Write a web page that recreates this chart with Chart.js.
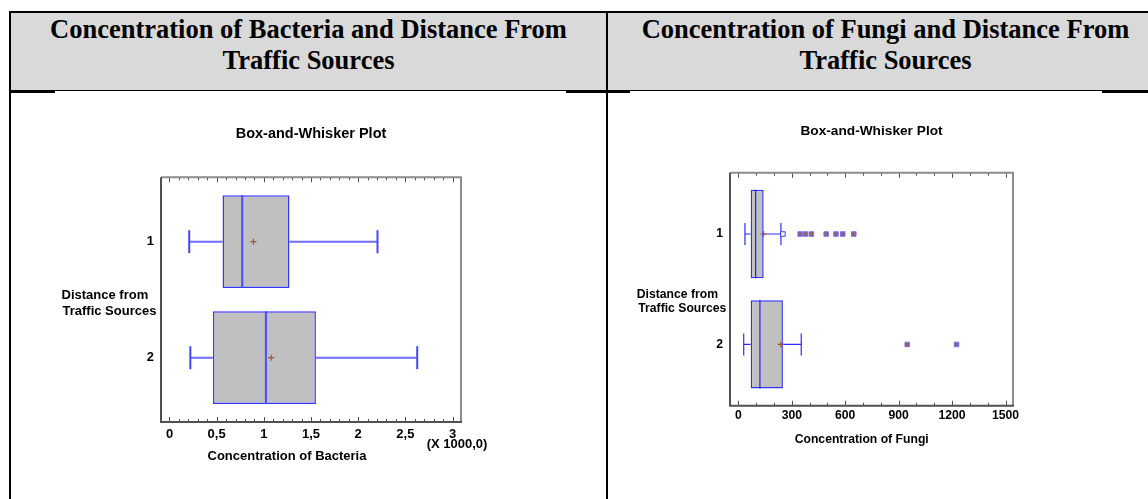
<!DOCTYPE html>
<html>
<head>
<meta charset="utf-8">
<title>Box-and-Whisker Plots</title>
<script src="https://cdn.jsdelivr.net/npm/chart.js@4.4.1/dist/chart.umd.min.js"></script>
<style>
  html, body { margin: 0; padding: 0; background: #fff; }
  body { position: relative; width: 1148px; height: 499px; overflow: hidden; }
  .cell-head { position: absolute; top: 13px; height: 77px; background: #d9d9d9; }
  .head-text { position: absolute; top: 14px; font: bold 26.5px/31px "Liberation Serif", "Times New Roman", serif; color: #000; text-align: center; white-space: nowrap; }
  .rule { position: absolute; background: #000; }
  canvas { position: absolute; }
</style>
</head>
<body>
<div class="cell-head" style="left:11px;width:595px"></div>
<div class="cell-head" style="left:608px;width:540px"></div>
<div class="head-text" style="left:11px;width:595px">Concentration of Bacteria and Distance From<br>Traffic Sources</div>
<div class="head-text" style="left:608px;width:555px">Concentration of Fungi and Distance From<br>Traffic Sources</div>
<div class="rule" style="left:9px;top:11px;width:1139px;height:2px"></div>
<div class="rule" style="left:9px;top:90px;width:1139px;height:1px"></div>
<div class="rule" style="left:9px;top:90px;width:46px;height:3px"></div>
<div class="rule" style="left:566px;top:90px;width:64px;height:3px"></div>
<div class="rule" style="left:1102px;top:90px;width:46px;height:3px"></div>
<div class="rule" style="left:9px;top:11px;width:2px;height:488px"></div>
<div class="rule" style="left:606px;top:11px;width:2px;height:488px"></div>

<canvas id="bacteria" width="542" height="370" style="left:40px;top:110px"></canvas>
<canvas id="fungi" width="503" height="350" style="left:620px;top:110px"></canvas>

<script>
'use strict';

// rows = distance from traffic sources
const rowLabels = ['1', '2'];
const rowValues = [1, 2];

// bacteria concentration (axis shown in thousands)
const bactLow = [209, 221];
const bactQ1 = [562, 460];
const bactMedian = [771, 1022];
const bactMean = [890, 1078];
const bactQ3 = [1272, 1552];
const bactHigh = [2205, 2626];
const bactTickValues = [0, 500, 1000, 1500, 2000, 2500, 3000];
const bactTicks = ['0', '0,5', '1', '1,5', '2', '2,5', '3'];

// fungi concentration
const fungiLow = [37, 30];
const fungiQ1 = [69, 69];
const fungiMedian = [97, 121];
const fungiMean = [141, 239];
const fungiQ3 = [142, 250];
const fungiHigh = [239, 353];
const fungiOutside = [[250], []]; // hollow squares
const fungiFarOutside = [[347, 377, 410, 493, 548, 586, 648], [948, 1225]];
const fungiTickValues = [0, 300, 600, 900, 1200, 1500];
const fungiTicks = ['0', '300', '600', '900', '1200', '1500'];

Chart.defaults.font.family = '"Liberation Sans", Arial, sans-serif';
Chart.defaults.color = '#000';

// frame, inward tick marks and the loose axis texts
const framePlugin = {
  id: 'frame',
  afterDraw(chart, args, opts) {
    const { ctx, chartArea: a } = chart;
    const x = chart.scales.x;
    ctx.save();
    ctx.strokeStyle = '#505050';
    ctx.lineWidth = 1;
    ctx.beginPath();
    for (let k = 0; k <= opts.tickCount; k++) {
      const v = k * opts.minorStep;
      const px = Math.round(x.getPixelForValue(v)) + 0.5;
      const len = k % opts.majorEvery === 0 ? 5 : 3;
      ctx.moveTo(px, a.bottom);
      ctx.lineTo(px, a.bottom - len);
      ctx.moveTo(px, a.top);
      ctx.lineTo(px, a.top + len);
    }
    ctx.stroke();

    ctx.lineWidth = 2;
    ctx.strokeStyle = '#8c8c8c';
    ctx.beginPath();
    ctx.moveTo(a.left, a.top);
    ctx.lineTo(a.right, a.top);
    ctx.lineTo(a.right, a.bottom);
    ctx.stroke();
    ctx.strokeStyle = '#505050';
    ctx.beginPath();
    ctx.moveTo(a.left, a.top);
    ctx.lineTo(a.left, a.bottom);
    ctx.lineTo(a.right + 1, a.bottom);
    ctx.stroke();

    ctx.fillStyle = '#000';
    ctx.textBaseline = 'middle';
    ctx.font = `bold ${opts.fontSize}px "Liberation Sans", Arial, sans-serif`;
    opts.notes.forEach((n) => {
      ctx.textAlign = n.align;
      ctx.fillText(n.text, n.x, n.y);
    });
    ctx.restore();
  },
};

function boxPlot(canvasId, s) {
  const ctx = document.getElementById(canvasId).getContext('2d');
  const halfBox = (c) => {
    const y = c.chart.scales.y;
    return 0.4 * Math.abs(y.getPixelForValue(2) - y.getPixelForValue(1));
  };
  const whisker = (from, to, row, radii) => ({
    type: 'line',
    order: 4,
    data: [{ x: from, y: row }, { x: to, y: row }],
    borderColor: s.whiskerColor,
    borderWidth: s.whiskerWidth,
    pointStyle: 'line',
    pointRotation: 90,
    pointRadius: radii,
    pointBorderColor: s.capColor,
    pointBorderWidth: s.whiskerWidth,
  });

  const datasets = [
    {
      type: 'bar',
      order: 5,
      data: rowValues.map((r, i) => ({ x: [s.q1[i], s.q3[i]], y: r })),
      backgroundColor: '#c0c0c0',
      borderColor: s.boxColor,
      borderWidth: 1.5,
      borderSkipped: false,
      barPercentage: 0.8,
      categoryPercentage: 1,
    },
  ];
  rowValues.forEach((r, i) => {
    datasets.push(whisker(s.low[i], s.q1[i], r, [s.cap, 0]));
    datasets.push(whisker(s.q3[i], s.high[i], r, [0, s.cap]));
  });
  datasets.push({
    type: 'scatter',
    order: 3,
    data: rowValues.map((r, i) => ({ x: s.median[i], y: r })),
    pointStyle: 'line',
    pointRotation: 90,
    pointRadius: halfBox,
    pointBorderColor: s.medianColor,
    pointBorderWidth: s.medianWidth,
  });
  datasets.push({
    type: 'scatter',
    order: 2,
    data: rowValues.map((r, i) => ({ x: s.mean[i], y: r })),
    pointStyle: 'cross',
    pointRadius: 3,
    pointBorderColor: '#a0522d',
    pointBorderWidth: 1.2,
  });
  if (s.outside) {
    datasets.push({
      type: 'scatter',
      order: 1,
      data: s.outside.flatMap((vals, i) => vals.map((v) => ({ x: v, y: rowValues[i] }))),
      pointStyle: 'rect',
      pointRadius: 3.2,
      pointBackgroundColor: '#ffffff',
      pointBorderColor: '#3a3aff',
      pointBorderWidth: 1,
    });
    datasets.push({
      type: 'scatter',
      order: 1,
      data: s.farOutside.flatMap((vals, i) => vals.map((v) => ({ x: v, y: rowValues[i] }))),
      pointStyle: 'rect',
      pointRadius: 3.2,
      pointBackgroundColor: '#94606a',
      pointBorderColor: '#7070ff',
      pointBorderWidth: 1,
    });
  }

  const tickFont = { size: s.axisFont, weight: 'bold' };
  return new Chart(ctx, {
    type: 'bar',
    data: { datasets },
    plugins: [framePlugin],
    options: {
      indexAxis: 'y',
      responsive: false,
      devicePixelRatio: 1,
      animation: false,
      events: [],
      layout: { padding: 0 },
      scales: {
        x: {
          type: 'linear',
          position: 'bottom',
          min: s.xMin,
          max: s.xMax,
          bounds: 'data',
          offset: false,
          grid: { display: false, drawTicks: false },
          border: { display: false },
          afterBuildTicks: (scale) => {
            scale.ticks = s.tickValues.map((v) => ({ value: v }));
          },
          ticks: {
            autoSkip: false,
            maxRotation: 0,
            padding: s.tickPad,
            font: tickFont,
            callback: (v, i) => s.tickLabels[i],
          },
          afterFit: (scale) => { scale.height = s.bottomH; },
        },
        y: {
          type: 'linear',
          position: 'left',
          min: 0.445,
          max: 2.555,
          bounds: 'data',
          reverse: true,
          offset: false,
          grid: { display: false, drawTicks: false },
          border: { display: false },
          afterBuildTicks: (scale) => {
            scale.ticks = rowValues.map((v) => ({ value: v }));
          },
          ticks: {
            padding: 7,
            font: tickFont,
            callback: (v, i) => rowLabels[i],
          },
          afterFit: (scale) => { scale.width = s.sideW; },
        },
        yR: {
          type: 'linear',
          position: 'right',
          min: 0.445,
          max: 2.555,
          display: true,
          grid: { display: false, drawTicks: false },
          border: { display: false },
          ticks: { display: false },
          afterFit: (scale) => { scale.width = s.sideW; },
        },
      },
      plugins: {
        legend: { display: false },
        tooltip: { enabled: false },
        title: {
          display: true,
          text: 'Box-and-Whisker Plot',
          color: '#000',
          font: { size: s.titleFont, weight: 'bold' },
          padding: { top: s.titleTop, bottom: s.titleBottom },
        },
        frame: {
          minorStep: 100,
          tickCount: s.tickCount,
          majorEvery: s.majorEvery,
          fontSize: s.axisFont,
          notes: s.notes,
        },
      },
    },
  });
}

boxPlot('bacteria', {
  low: bactLow, q1: bactQ1, median: bactMedian, mean: bactMean, q3: bactQ3, high: bactHigh,
  tickValues: bactTickValues, tickLabels: bactTicks, xMin: -90, xMax: 3090, tickCount: 30, majorEvery: 5,
  boxColor: '#3636ff', whiskerColor: '#6c6cff', capColor: '#4646ff', whiskerWidth: 2,
  medianColor: '#4a4aff', medianWidth: 2, cap: 11.5,
  axisFont: 13, titleFont: 14.5, titleTop: 15.6, titleBottom: 34.3, tickPad: 4.2,
  sideW: 121, bottomH: 58,
  notes: [
    { text: 'Distance from', x: 21.5, y: 185.7, align: 'left' },
    { text: 'Traffic Sources', x: 22.5, y: 201, align: 'left' },
    { text: 'Concentration of Bacteria', x: 247, y: 346.7, align: 'center' },
    { text: '(X 1000,0)', x: 386.7, y: 334.5, align: 'left' },
  ],
});

boxPlot('fungi', {
  low: fungiLow, q1: fungiQ1, median: fungiMedian, mean: fungiMean, q3: fungiQ3, high: fungiHigh,
  outside: fungiOutside, farOutside: fungiFarOutside,
  tickValues: fungiTickValues, tickLabels: fungiTicks, xMin: -47, xMax: 1542, tickCount: 15, majorEvery: 3,
  boxColor: '#3030ff', whiskerColor: '#2c2cff', capColor: '#2c2cff', whiskerWidth: 1.2,
  medianColor: '#2020ff', medianWidth: 1.2, cap: 11,
  axisFont: 12.2, titleFont: 13.7, titleTop: 12.8, titleBottom: 33.5, tickPad: 3,
  sideW: 110, bottomH: 54.3,
  notes: [
    { text: 'Distance from', x: 16.7, y: 184.3, align: 'left' },
    { text: 'Traffic Sources', x: 18.3, y: 198.3, align: 'left' },
    { text: 'Concentration of Fungi', x: 241.7, y: 330, align: 'center' },
  ],
});
</script>
</body>
</html>
